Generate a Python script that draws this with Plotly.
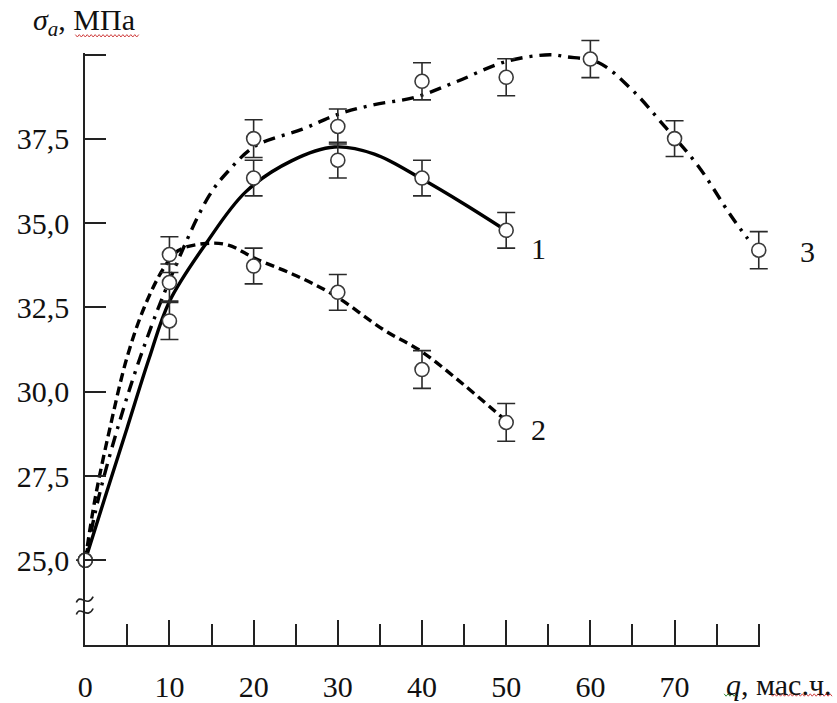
import plotly.graph_objects as go

# ---------------- data ----------------
q_pts_1 = [0, 10, 20, 30, 40, 50]
s_pts_1 = [25.0, 32.10, 36.34, 36.87, 36.34, 34.79]
e_pts_1 = [0, 0.55, 0.53, 0.53, 0.53, 0.53]

q_pts_2 = [0, 10, 20, 30, 40, 50]
s_pts_2 = [25.0, 34.07, 33.73, 32.95, 30.66, 29.09]
e_pts_2 = [0, 0.53, 0.53, 0.53, 0.56, 0.56]

q_pts_3 = [0, 10, 20, 30, 40, 50, 60, 70, 80]
s_pts_3 = [25.0, 33.24, 37.51, 37.87, 39.21, 39.33, 39.87, 37.51, 34.20]
e_pts_3 = [0, 0.55, 0.56, 0.52, 0.55, 0.55, 0.55, 0.53, 0.55]

# fitted curves
q_curve_1 = [0, 2.35, 5, 7.6, 10, 14.35, 19.06, 24.5, 29.6, 34.35, 40, 45, 50]
s_curve_1 = [25.0, 26.87, 28.95, 31.0, 32.68, 34.4, 35.93, 36.85, 37.26, 37.05, 36.31, 35.57, 34.78]

q_curve_2 = [0, 1.2, 3, 4.94, 7, 9.3, 11.06, 14.35, 17, 20.2, 25, 29.6, 35.5, 39.9, 45, 49.3, 50]
s_curve_2 = [25.0, 26.87, 29.0, 31.0, 32.5, 33.66, 34.19, 34.4, 34.35, 33.95, 33.45, 32.86, 31.83, 31.2, 30.2, 29.29, 29.15]

q_curve_3 = [0, 1.6, 4, 6.5, 10, 14.7, 17, 20.2, 25.8, 30, 34.35, 39.1, 44.1, 50, 55.2, 57.1, 61, 64.9, 68.8, 72.8, 76.7, 78.7]
s_curve_3 = [25.0, 26.87, 29.05, 31.0, 33.3, 35.81, 36.55, 37.29, 37.79, 38.23, 38.52, 38.73, 39.2, 39.8, 40.0, 39.94, 39.76, 38.97, 37.88, 36.7, 35.22, 34.54]

x_tick_vals = [0, 10, 20, 30, 40, 50, 60, 70]
x_tick_text = ["0", "10", "20", "30", "40", "50", "60", "70"]
x_minor_vals = [5, 15, 25, 35, 45, 55, 65, 75, 80]
y_tick_vals = [25, 27.5, 30, 32.5, 35, 37.5]
y_tick_text = ["25,0", "27,5", "30,0", "32,5", "35,0", "37,5"]
y_minor_vals = [40]

curve_labels = ["1", "2", "3"]
label_q = [53.8, 53.8, 85.8]
label_s = [34.25, 28.88, 34.16]

# ---------------- layout geometry ----------------
W, H = 837, 703
X0_PX, X_SCALE = 78.0, 8.5          # px of q=0, px per unit
Y25_PX, Y_SCALE = 563.5, 33.9       # px of 25.0, px per MPa
Y_TOP, X_RIGHT = 40.05, 80.2        # frame axis ends (slightly past last tick)


def px_x(v):
    return X0_PX + X_SCALE * v


def px_y(v):
    return Y25_PX - Y_SCALE * (v - 25)


x_range = [(0 - X0_PX) / X_SCALE, (W - X0_PX) / X_SCALE]
y_range = [25 - (H - Y25_PX) / Y_SCALE, 25 + Y25_PX / Y_SCALE]

FONT = "Liberation Serif, Times New Roman, serif"
INK = "#111111"
AX = "#222222"

fig = go.Figure()

line_styles = [
    dict(color="black", width=3.4, dash="solid"),
    dict(color="black", width=3.4, dash="9px,5px"),
    dict(color="black", width=3.4, dash="12px,7px,3px,7px"),
]
curves = [(q_curve_1, s_curve_1), (q_curve_2, s_curve_2), (q_curve_3, s_curve_3)]
for (cx, cy), ls in zip(curves, line_styles):
    fig.add_trace(go.Scatter(x=cx, y=cy, mode="lines", line=dict(shape="spline", smoothing=1.0, **ls),
                             showlegend=False, hoverinfo="skip", cliponaxis=False))

points = [(q_pts_1, s_pts_1, e_pts_1), (q_pts_2, s_pts_2, e_pts_2), (q_pts_3, s_pts_3, e_pts_3)]
for qx, sy, ee in points:
    fig.add_trace(go.Scatter(
        x=qx, y=sy, mode="markers",
        marker=dict(symbol="circle", size=14, color="white", line=dict(color="#3a3a3a", width=1.6)),
        error_y=dict(type="data", array=ee, visible=True, color="#2a2a2a", thickness=1.6, width=9),
        showlegend=False, hoverinfo="skip", cliponaxis=False))

# invisible anchor trace for the frame axes
fig.add_trace(go.Scatter(x=[None], y=[None], xaxis="x2", yaxis="y2", showlegend=False, hoverinfo="skip"))

for t, xq, ys in zip(curve_labels, label_q, label_s):
    fig.add_annotation(x=xq, y=ys, text=t, showarrow=False, xref="x", yref="y",
                       font=dict(family=FONT, size=30, color=INK))

# axis titles
fig.add_annotation(x=23 / W, y=1 - 22 / H, xref="paper", yref="paper", xanchor="left", yanchor="middle",
                   text="<i>σ<sub>a</sub></i>, МПа", showarrow=False, font=dict(family=FONT, size=30, color=INK))
fig.add_annotation(x=723 / W, y=1 - 688 / H, xref="paper", yref="paper", xanchor="left", yanchor="middle",
                   text="<i>q</i>, мас.ч.", showarrow=False, font=dict(family=FONT, size=30, color=INK))


def P(px, py):
    return f"{px / W:.5f},{1 - py / H:.5f}"


def wavy(x_start, x_end, y, color):
    pts = []
    x = x_start
    k = 0
    while x <= x_end:
        pts.append(P(x, y + (1.2 if k % 2 else -1.2)))
        x += 2.0
        k += 1
    return dict(type="path", xref="paper", yref="paper", path="M " + " L ".join(pts),
                line=dict(color=color, width=1))


shapes = [
    wavy(68, 133, 36, "#d04040"),
    wavy(770, 833, 699, "#d04040"),
    wavy(723, 738, 699, "#3a8a3a"),
]
# axis break mark
for dy in (0, 12):
    shapes.append(dict(type="path", xref="paper", yref="paper",
                       path=f"M {P(69, 606 + dy)} C {P(73, 596 + dy)} {P(80, 612 + dy)} {P(86, 600 + dy)}",
                       line=dict(color=AX, width=1.6)))

fig.update_layout(
    width=W, height=H, autosize=False,
    margin=dict(l=0, r=0, t=0, b=0, pad=0),
    paper_bgcolor="white", plot_bgcolor="rgba(0,0,0,0)",
    showlegend=False,
    xaxis=dict(range=x_range, domain=[0, 1], visible=False, fixedrange=True),
    yaxis=dict(range=y_range, domain=[0, 1], visible=False, fixedrange=True),
    xaxis2=dict(range=[0, X_RIGHT], domain=[px_x(0) / W, px_x(X_RIGHT) / W], anchor="y2",
                showline=True, linecolor=AX, linewidth=2, showgrid=False, zeroline=False,
                tickmode="array", tickvals=x_tick_vals, ticktext=x_tick_text,
                ticks="inside", ticklen=25, tickwidth=2, tickcolor=AX,
                minor=dict(tickmode="array", tickvals=x_minor_vals, ticks="inside", ticklen=21,
                           tickwidth=2, tickcolor=AX, showgrid=False),
                ticklabelstandoff=14,
                tickfont=dict(family=FONT, size=30, color=INK)),
    yaxis2=dict(range=[22.5, Y_TOP], domain=[1 - px_y(22.5) / H, 1 - px_y(Y_TOP) / H], anchor="x2",
                showline=True, linecolor=AX, linewidth=2, showgrid=False, zeroline=False,
                tickmode="array", tickvals=y_tick_vals, ticktext=y_tick_text,
                ticks="inside", ticklen=21, tickwidth=2, tickcolor=AX,
                minor=dict(tickmode="array", tickvals=y_minor_vals, ticks="inside", ticklen=21,
                           tickwidth=2, tickcolor=AX, showgrid=False),
                ticklabelstandoff=8,
                tickfont=dict(family=FONT, size=30, color=INK)),
    shapes=shapes,
)

fig.write_html("out.html")
